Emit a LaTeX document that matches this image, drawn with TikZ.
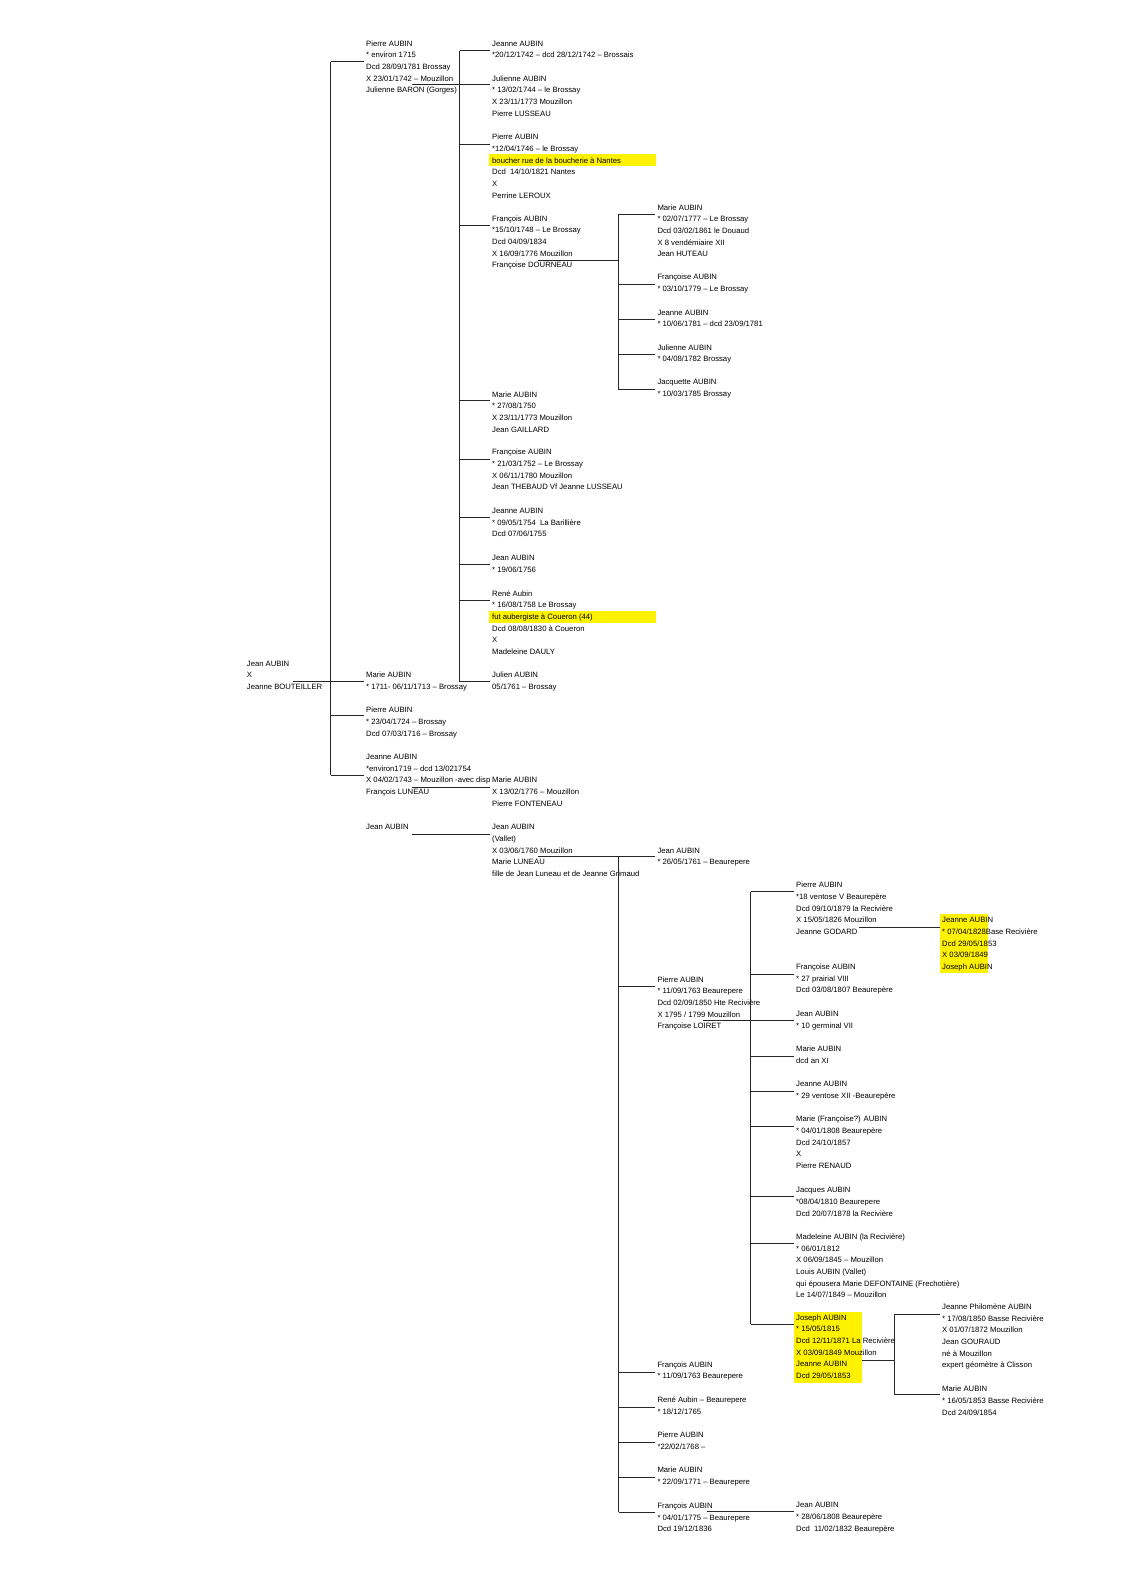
\documentclass[tikz,border=0pt]{standalone}
\usepackage{fontspec}
\setmainfont{Liberation Sans}
\newcommand\pnode[3]{\node[pp] (#1) at (#2) {\begin{tabular}[t]{@{}l@{}}#3\end{tabular}};}
\newcommand\kid[3]{\coordinate (tmp) at (0,#3); \draw[ln,shorten >=2pt] (#1 |- tmp) -- (#2.west |- tmp);}
\newcommand\tobar[3]{\coordinate (#1-o) at (#2); \draw[ln] (#1-o) -- (#3 |- #1-o);}
\newcommand\tokid[3]{\coordinate (#1-o) at (#2); \draw[ln,shorten >=2pt] (#1-o) -- (#3.west |- #1-o);}
\begin{document}
\begin{tikzpicture}[x=1pt,y=-1pt,
  pp/.style={anchor=base west, inner sep=0pt, font=\fontsize{7.7}{11.67}\selectfont},
  ln/.style={line width=0.75pt, draw=black!85},
  hl/.style={fill=yellow}]
\useasboundingbox (0,0) rectangle (1123,1588);
% highlights
\fill[hl] (489.3,154) rectangle (656,166);
\fill[hl] (489.3,610.7) rectangle (656,622.7);
\fill[hl] (940,914) rectangle (987.7,973);
\fill[hl] (794,1311.7) rectangle (861.7,1382.7);
% column 0
\pnode{n0}{246.7,666.1}{Jean AUBIN\\X\\Jeanne BOUTEILLER}
% column 1
\pnode{p1}{366,46.1}{Pierre AUBIN\\{*} environ 1715\\Dcd 28/09/1781 Brossay\\X 23/01/1742 – Mouzillon\\Julienne BARON (Gorges)}
\pnode{m1}{366,677.8}{Marie AUBIN\\{*} 1711- 06/11/1713 – Brossay}
\pnode{p2}{366,712.8}{Pierre AUBIN\\{*} 23/04/1724 – Brossay\\Dcd 07/03/1716 – Brossay}
\pnode{j1}{366,759.5}{Jeanne AUBIN\\{*}environ1719 – dcd 13/021754\\X 04/02/1743 – Mouzillon -avec disp\\François LUNEAU}
\pnode{ja1}{366,829.8}{Jean AUBIN}
% column 2
\pnode{c1}{492,46.1}{Jeanne AUBIN\\{*}20/12/1742 – dcd 28/12/1742 – Brossais}
\pnode{c2}{492,81.1}{Julienne AUBIN\\{*} 13/02/1744 – le Brossay\\X 23/11/1773 Mouzillon\\Pierre LUSSEAU}
\pnode{c3}{492,139.8}{Pierre AUBIN\\{*}12/04/1746 – le Brossay\\boucher rue de la boucherie à Nantes\\Dcd\ \ 14/10/1821 Nantes\\X\\Perrine LEROUX}
\pnode{c4}{492,221.1}{François AUBIN\\{*}15/10/1748 – Le Brossay\\Dcd 04/09/1834\\X 16/09/1776 Mouzillon\\Françoise DOURNEAU}
\pnode{c5}{492,397.1}{Marie AUBIN\\{*} 27/08/1750\\X 23/11/1773 Mouzillon\\Jean GAILLARD}
\pnode{c6}{492,454.8}{Françoise AUBIN\\{*} 21/03/1752 – Le Brossay\\X 06/11/1780 Mouzillon\\Jean THEBAUD Vf Jeanne LUSSEAU}
\pnode{c7}{492,513.5}{Jeanne AUBIN\\{*} 09/05/1754\ \ La Barillière\\Dcd 07/06/1755}
\pnode{c8}{492,560.5}{Jean AUBIN\\{*} 19/06/1756}
\pnode{c9}{492,596.1}{René Aubin\\{*} 16/08/1758 Le Brossay\\fut aubergiste à Coueron (44)\\Dcd 08/08/1830 à Coueron\\X\\Madeleine DAULY}
\pnode{c10}{492,677.8}{Julien AUBIN\\05/1761 – Brossay}
\pnode{d1}{492,782.8}{Marie AUBIN\\X 13/02/1776 – Mouzillon\\Pierre FONTENEAU}
\pnode{e1}{492,829.8}{Jean AUBIN\\(Vallet)\\X 03/06/1760 Mouzillon\\Marie LUNEAU\\fille de Jean Luneau et de Jeanne Grimaud}
% column 3
\pnode{f1}{657.3,210.1}{Marie AUBIN\\{*} 02/07/1777 – Le Brossay\\Dcd 03/02/1861 le Douaud\\X 8 vendémiaire XII\\Jean HUTEAU}
\pnode{f2}{657.3,279.8}{Françoise AUBIN\\{*} 03/10/1779 – Le Brossay}
\pnode{f3}{657.3,315.1}{Jeanne AUBIN\\{*} 10/06/1781 – dcd 23/09/1781}
\pnode{f4}{657.3,350.1}{Julienne AUBIN\\{*} 04/08/1782 Brossay}
\pnode{f5}{657.3,384.8}{Jacquette AUBIN\\{*} 10/03/1785 Brossay}
\pnode{g1}{657.3,853.3}{Jean AUBIN\\{*} 26/05/1761 – Beaurepere}
\pnode{g2}{657.3,982.1}{Pierre AUBIN\\{*} 11/09/1763 Beaurepere\\Dcd 02/09/1850 Hte Recivière\\X 1795 / 1799 Mouzillon\\Françoise LOIRET}
\pnode{g3}{657.3,1367.1}{François AUBIN\\{*} 11/09/1763 Beaurepere}
\pnode{g4}{657.3,1402.8}{René Aubin – Beaurepere\\{*} 18/12/1765}
\pnode{g5}{657.3,1437.8}{Pierre AUBIN\\{*}22/02/1768 –}
\pnode{g6}{657.3,1472.8}{Marie AUBIN\\{*} 22/09/1771 – Beaurepere}
\pnode{g7}{657.3,1508.5}{François AUBIN\\{*} 04/01/1775 – Beaurepere\\Dcd 19/12/1836}
% column 4
\pnode{h1}{796,887.8}{Pierre AUBIN\\{*}18 ventose V Beaurepère\\Dcd 09/10/1879 la Recivière\\X 15/05/1826 Mouzillon\\Jeanne GODARD}
\pnode{h2}{796,969.5}{Françoise AUBIN\\{*} 27 prairial VIII\\Dcd 03/08/1807 Beaurepère}
\pnode{h3}{796,1016.8}{Jean AUBIN\\{*} 10 germinal VII}
\pnode{h4}{796,1051.8}{Marie AUBIN\\dcd an XI}
\pnode{h5}{796,1086.8}{Jeanne AUBIN\\{*} 29 ventose XII -Beaurepère}
\pnode{h6}{796,1121.8}{Marie (Françoise?) AUBIN\\{*} 04/01/1808 Beaurepère\\Dcd 24/10/1857\\X\\Pierre RENAUD}
\pnode{h7}{796,1192.8}{Jacques AUBIN\\{*}08/04/1810 Beaurepere\\Dcd 20/07/1878 la Recivière}
\pnode{h8}{796,1239.5}{Madeleine AUBIN (la Recivière)\\{*} 06/01/1812\\X 06/09/1845 – Mouzillon\\Louis AUBIN (Vallet)\\qui épousera Marie DEFONTAINE (Frechotière)\\Le 14/07/1849 – Mouzillon}
\pnode{h9}{796,1320.1}{Joseph AUBIN\\{*} 15/05/1815\\Dcd 12/11/1871 La Recivière\\X 03/09/1849 Mouzillon\\Jeanne AUBIN\\Dcd 29/05/1853}
\pnode{h10}{796,1507.8}{Jean AUBIN\\{*} 28/06/1808 Beaurepère\\Dcd\ \ 11/02/1832 Beaurepère}
% column 5
\pnode{k1}{942,922.8}{Jeanne AUBIN\\{*} 07/04/1828Base Recivière\\Dcd 29/05/1853\\X 03/09/1849\\Joseph AUBIN}
\pnode{k2}{942,1309.5}{Jeanne Philomène AUBIN\\{*} 17/08/1850 Basse Recivière\\X 01/07/1872 Mouzillon\\Jean GOURAUD\\né à Mouzillon\\expert géomètre à Clisson}
\pnode{k3}{942,1391.8}{Marie AUBIN\\{*} 16/05/1853 Basse Recivière\\Dcd 24/09/1854}
% bars
\coordinate (b1t) at (330.7,61.7);  \coordinate (b1b) at (330.7,775);
\coordinate (b2t) at (459.7,50.7);  \coordinate (b2b) at (459.7,681.7);
\coordinate (b3t) at (618.3,214);   \coordinate (b3b) at (618.3,389);
\coordinate (b4t) at (618.5,856.7); \coordinate (b4b) at (618.5,1512.3);
\coordinate (b5t) at (750.7,891.7); \coordinate (b5b) at (750.7,1324.3);
\coordinate (b6t) at (894.3,1314);  \coordinate (b6b) at (894.3,1394.3);
\foreach \b in {b1,b2,b3,b4,b5,b6} {\draw[ln] (\b t) -- (\b b);}
% children links
\kid{b1t}{p1}{61.7} \kid{b1t}{m1}{681.7} \kid{b1t}{p2}{715} \kid{b1t}{j1}{775}
\kid{b2t}{c1}{50.7} \kid{b2t}{c2}{84.3} \kid{b2t}{c3}{144} \kid{b2t}{c4}{225.7}
\kid{b2t}{c5}{400.7} \kid{b2t}{c6}{459.3} \kid{b2t}{c7}{517.3} \kid{b2t}{c8}{564.3}
\kid{b2t}{c9}{600.7} \kid{b2t}{c10}{681.7}
\kid{b3t}{f1}{214} \kid{b3t}{f2}{284} \kid{b3t}{f3}{319} \kid{b3t}{f4}{354.3} \kid{b3t}{f5}{389}
\kid{b4t}{g1}{856.7} \kid{b4t}{g2}{986} \kid{b4t}{g3}{1372.3} \kid{b4t}{g4}{1407.7}
\kid{b4t}{g5}{1442.3} \kid{b4t}{g6}{1477.3} \kid{b4t}{g7}{1512.3}
\kid{b5t}{h1}{891.7} \kid{b5t}{h2}{974} \kid{b5t}{h3}{1020.7} \kid{b5t}{h4}{1056.7}
\kid{b5t}{h5}{1091.7} \kid{b5t}{h6}{1126} \kid{b5t}{h7}{1196.7} \kid{b5t}{h8}{1243.3}
\kid{b5t}{h9}{1324.3}
\kid{b6t}{k2}{1314} \kid{b6t}{k3}{1394.3}
% parent links
\tobar{n0}{293.3,681.7}{b1t}
\tobar{p1}{412,84.3}{b2t}
\tobar{c4}{538.3,260.3}{b3t}
\tobar{e1}{538.3,856.7}{b4t}
\tobar{g2}{703.3,1020.7}{b5t}
\tobar{h9}{861.7,1360.7}{b6t}
\tokid{j1}{412.3,787.3}{d1}
\tokid{ja1}{412.3,834}{e1}
\tokid{h1}{859.3,927.3}{k1}
\tokid{g7}{706.7,1511.7}{h10}
\end{tikzpicture}
\end{document}
